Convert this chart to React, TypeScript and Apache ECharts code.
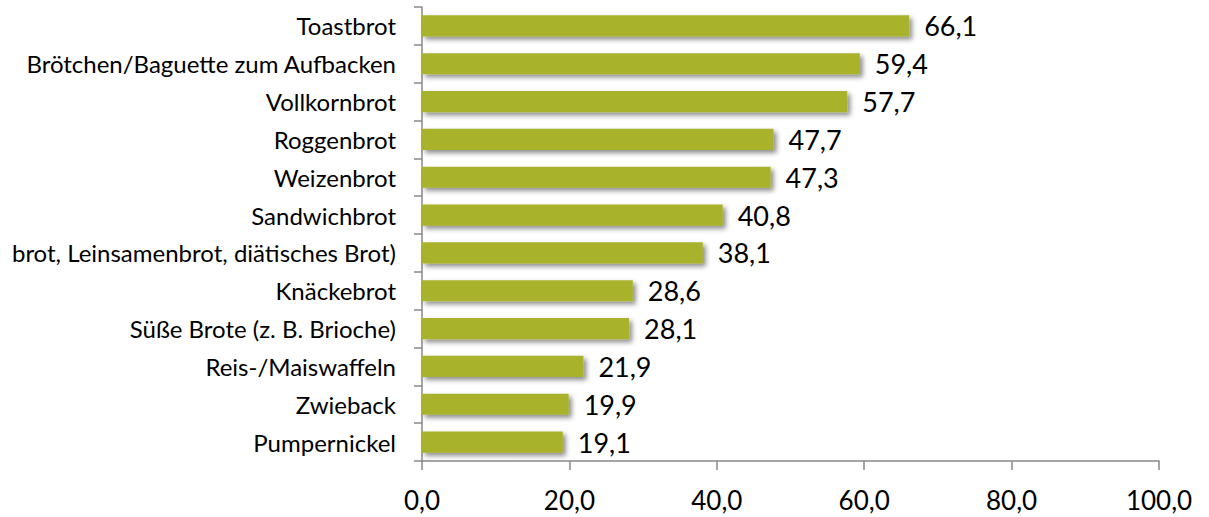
import React, { useEffect, useRef } from "react";
import * as echarts from "echarts";

const categories = [
  "Toastbrot",
  "Brötchen/Baguette zum Aufbacken",
  "Vollkornbrot",
  "Roggenbrot",
  "Weizenbrot",
  "Sandwichbrot",
  "brot, Leinsamenbrot, diätisches Brot)",
  "Knäckebrot",
  "Süße Brote (z. B. Brioche)",
  "Reis-/Maiswaffeln",
  "Zwieback",
  "Pumpernickel",
];
const values = [66.1, 59.4, 57.7, 47.7, 47.3, 40.8, 38.1, 28.6, 28.1, 21.9, 19.9, 19.1];
const axisMin = 0;
const axisMax = 100;
const axisInterval = 20;

const fmt = (v: number) => v.toFixed(1).replace(".", ",");

export default function App() {
  const ref = useRef<HTMLDivElement>(null);
  useEffect(() => {
    if (!ref.current) return;
    const chart = echarts.init(ref.current, undefined, { renderer: "svg" });
    const font = "Lato, 'Open Sans', sans-serif";
    chart.setOption({
      animation: false,
      backgroundColor: "#ffffff",
      grid: { left: 422, right: 50, top: 7, bottom: 56, containLabel: false },
      xAxis: {
        type: "value",
        min: axisMin,
        max: axisMax,
        interval: axisInterval,
        axisLine: { show: true, lineStyle: { color: "#888888", width: 1.5 } },
        axisTick: { show: true, length: 9, lineStyle: { color: "#888888", width: 1.5 } },
        splitLine: { show: false },
        axisLabel: {
          formatter: (v: number) => fmt(v),
          color: "#000000",
          fontFamily: font,
          fontSize: 26,
          lineHeight: 26,
          margin: 26,
        },
      },
      yAxis: {
        type: "category",
        data: categories,
        inverse: true,
        axisLine: { show: true, lineStyle: { color: "#888888", width: 1.5 } },
        axisTick: { show: true, length: 8, alignWithLabel: false, lineStyle: { color: "#888888", width: 1.5 } },
        axisLabel: {
          color: "#000000",
          fontFamily: font,
          fontSize: 24,
          margin: 26,
        },
      },
      series: [
        {
          type: "bar",
          data: values,
          barCategoryGap: "44%",
          itemStyle: {
            color: "#a8b22c",
            shadowColor: "rgba(0,0,0,0.45)",
            shadowBlur: 5,
            shadowOffsetX: 3,
            shadowOffsetY: 3,
          },
          label: {
            show: true,
            position: "right",
            distance: 15,
            formatter: (p: any) => fmt(p.value),
            color: "#000000",
            fontFamily: font,
            fontSize: 27,
          },
        },
      ],
    });
    return () => chart.dispose();
  }, []);
  return (
    <div
      ref={ref}
      style={{ position: "fixed", left: 0, top: 0, width: 1209, height: 517, background: "#fff" }}
    />
  );
}
